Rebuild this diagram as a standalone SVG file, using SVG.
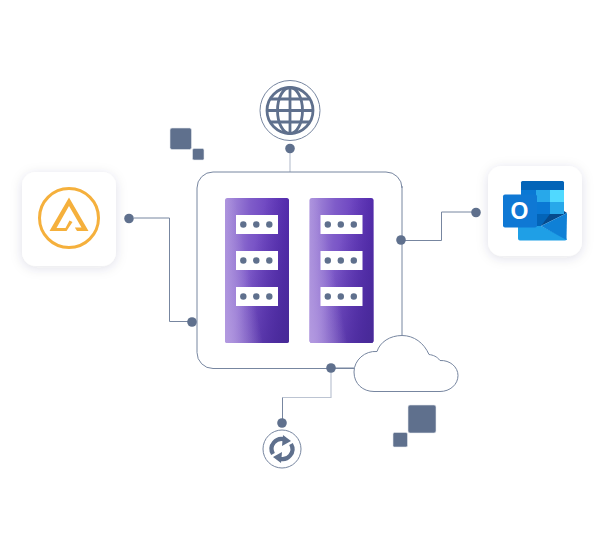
<svg xmlns="http://www.w3.org/2000/svg" width="598" height="550" viewBox="0 0 598 550">
<defs>
<style>
.dot{fill:#5f708d}
.sq{fill:#5f708d;stroke:#e6e9ef;stroke-width:.6}
.ln{fill:none;stroke:#7786a0;stroke-width:1}
.lt{fill:none;stroke:#bcc4d2;stroke-width:1.2}
.thin{fill:#fff;stroke:#7786a0;stroke-width:1}
.card{fill:#fff;filter:url(#sh)}
.bar{fill:#fff}
.gl{fill:none;stroke:#5f708d;stroke-width:2.8}
</style>
<filter id="sh" x="-30%" y="-30%" width="160%" height="160%"><feDropShadow dx="0" dy="2" stdDeviation="6" flood-color="#2b3550" flood-opacity=".13"/></filter>
<linearGradient id="g1" x1="0" y1="0" x2="1" y2=".12"><stop offset="0" stop-color="#ac93dd"/><stop offset=".4" stop-color="#7f5cc9"/><stop offset="1" stop-color="#5a2cb8"/></linearGradient>
<linearGradient id="g2" x1=".3" y1=".6" x2="1" y2="1"><stop offset="0" stop-color="#472a96" stop-opacity="0"/><stop offset="1" stop-color="#472a96"/></linearGradient>
<linearGradient id="g3" x1="0" y1="1" x2=".5" y2=".78"><stop offset="0" stop-color="#b39ae0"/><stop offset="1" stop-color="#b39ae0" stop-opacity="0"/></linearGradient>
<g id="rack">
<rect width="64" height="145" rx="2.5" fill="url(#g1)"/>
<rect width="64" height="145" rx="2.5" fill="url(#g2)"/>
<rect width="64" height="145" rx="2.5" fill="url(#g3)"/>
<g id="b"><rect class="bar" x="11" y="17" width="42" height="19"/><circle class="dot" cx="18.300" cy="26.500" r="3.200"/><circle class="dot" cx="31.300" cy="26.500" r="3.200"/><circle class="dot" cx="44.300" cy="26.500" r="3.200"/></g>
<use href="#b" y="36"/><use href="#b" y="72"/>
</g>
</defs>
<rect width="598" height="550" fill="#fff"/>

<g id="connectors">
<path class="lt" d="M290 152V172"/>
<path class="ln" d="M134 218H169.500V321.500H188"/>
<path class="ln" d="M472 212H441.500V240.500H405"/>
<path class="ln" d="M402 335V186"/>
<path class="lt" d="M331 372V397.500H282.500"/>
<path class="ln" d="M282.500 397.500V419"/>
<path class="ln" d="M331 368H354"/>
</g>

<g id="main-box">
<path class="ln" d="M354 368.500H213a16 16 0 0 1-16-16V188a16 16 0 0 1 16-16H386a16 16 0 0 1 16 16"/>
</g>
<g id="server-1"><use href="#rack" x="225" y="198"/></g>
<g id="server-2"><use href="#rack" x="309.500" y="198"/></g>

<g id="cloud">
<path class="thin" d="M377 351.500C365 350.500 354 360 354 372C354 384 363 391.500 374 391.500H440C450 391.500 458 384.500 458 375.500C458 367 450 360 440 360.500C437 356.500 433 355 429 354.500C424 343 414 335.500 402 335.500C390 335.500 380 342 377 351.500Z"/>
</g>

<g id="globe">
<circle cx="290" cy="110.500" r="30" fill="#fff" stroke="#7786a0" stroke-width="1"/>
<circle class="gl" cx="290" cy="110.500" r="23"/>
<ellipse class="gl" cx="290" cy="110.500" rx="12.500" ry="23"/>
<path class="gl" d="M290 87.500V133.500M267 110.500H313M270.500 99H309.500M270.500 122H309.500"/>
</g>

<g id="sync">
<circle cx="282" cy="449" r="19" fill="#fff" stroke="#7786a0" stroke-width="1"/>
<path fill="none" stroke="#5f708d" stroke-width="4.200" d="M273 454A10 10 0 0 1 285 439.500M291 444A10 10 0 0 1 279 458.500"/>
<path fill="#5f708d" d="M283 435L291 441L282 446ZM281 463L273 457L282 452Z"/>
</g>

<g id="app-card">
<rect class="card" x="22" y="172" width="94" height="94" rx="14"/>
<circle cx="69" cy="218" r="29.500" fill="none" stroke="#f5b03c" stroke-width="3"/>
<path fill="#f5b03c" d="M69 197.500L88.500 231H77L74.800 227.500H81.500L69 206L56.500 228H65.500L69.500 220.500L72.500 222L66.500 231H49.500Z"/>
</g>

<g id="outlook-card">
<rect class="card" x="488" y="166" width="94" height="90" rx="14"/>
<path d="M521 190V182.500A1.500 1.500 0 0 1 522.500 181H562.500A1.500 1.500 0 0 1 564 182.500V190Z" fill="#0364b8"/>
<rect x="521" y="190" width="15" height="12" fill="#0a78d4"/>
<rect x="536" y="190" width="14" height="12" fill="#28a8ea"/>
<rect x="550" y="190" width="14" height="12" fill="#50d9ff"/>
<rect x="521" y="202" width="15" height="24" fill="#0364b8"/>
<rect x="536" y="202" width="14" height="12" fill="#0a78d4"/>
<rect x="550" y="202" width="14" height="12" fill="#28a8ea"/>
<path d="M536 214H550V218L541 226H536Z" fill="#0364b8"/>
<path d="M550 214H564V211L567 213L541 226Z" fill="#064a8c"/>
<path d="M518 226H541L567 239V238.500A2 2 0 0 1 565 240.500H520A2 2 0 0 1 518 238.500Z" fill="#1f9fe6"/>
<path d="M567 213L541 226L566.500 240Z" fill="#0f80d6"/>
<rect x="503" y="194.500" width="34" height="33" rx="2" fill="#0f78d4"/>
<text x="519.500" y="219" text-anchor="middle" font-family="'Liberation Sans',sans-serif" font-size="23" font-weight="700" fill="#fff">O</text>
</g>

<g id="squares">
<rect class="sq" x="170" y="128" width="21.500" height="21.500" rx="2"/>
<rect class="sq" x="192.500" y="148.500" width="11.500" height="11.500" rx="1.500"/>
<rect class="sq" x="408" y="405" width="28" height="28" rx="2"/>
<rect class="sq" x="393" y="432.500" width="14.500" height="14.500" rx="1.500"/>
</g>

<g id="dots">
<circle class="dot" cx="290" cy="148.500" r="4.800"/>
<circle class="dot" cx="129" cy="218.500" r="4.800"/>
<circle class="dot" cx="192" cy="322" r="4.800"/>
<circle class="dot" cx="476" cy="212.500" r="4.800"/>
<circle class="dot" cx="401" cy="240" r="4.800"/>
<circle class="dot" cx="331" cy="368" r="4.800"/>
<circle class="dot" cx="282" cy="423" r="4.800"/>
</g>
</svg>
